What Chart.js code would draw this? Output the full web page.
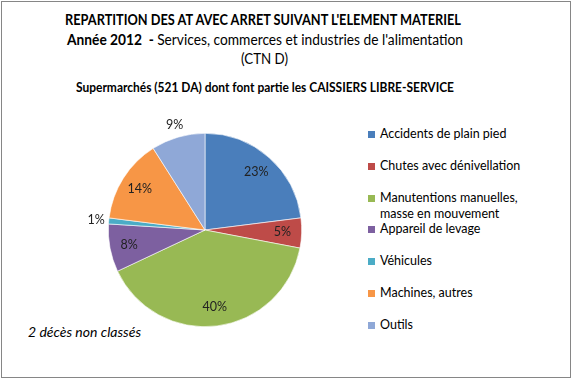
<!DOCTYPE html>
<html>
<head>
<meta charset="utf-8">
<script src="https://cdn.jsdelivr.net/npm/chart.js@4"></script>
<style>
    body { margin: 0; background: #fff; }
    #cadre { position: absolute; left: 1px; top: 1px; width: 568px; height: 375px; border: 1px solid #868686; background: #fff; overflow: hidden; font-family: Lato, "Open Sans", sans-serif; color: #000; }
    .txt { position: absolute; white-space: nowrap; transform-origin: left center; line-height: 1; }
    #zoneGraph { position: absolute; left: 82px; top: 107px; width: 242px; height: 242px; }
    .leg { position: absolute; left: 366px; font-size: 12.5px; line-height: 16px; white-space: nowrap; }
    .leg span.carre { position: absolute; left: 0; top: 5px; width: 7px; height: 7px; }
    .leg div { margin-left: 12px; }
</style>
</head>
<body>
<div id="cadre">
    <div class="txt" id="t1" style="font-weight:bold;font-size:14.5px">REPARTITION DES AT AVEC ARRET SUIVANT L'ELEMENT MATERIEL</div>
    <div class="txt" id="t2" style="font-size:14.5px"><b>Année 2012&nbsp; - </b>Services, commerces et industries de l'alimentation</div>
    <div class="txt" id="t3" style="font-size:14.5px">(CTN D)</div>
    <div class="txt" id="t4" style="font-weight:bold;font-size:13.5px">Supermarchés (521 DA) dont font partie les CAISSIERS LIBRE-SERVICE</div>
    <div class="txt" id="note" style="font-style:italic;font-size:13px">2 décès non classés</div>
    <div id="zoneGraph"><canvas id="graphPie"></canvas></div>
    <div id="legende"></div>
</div>
<script>
// Données
const categories = [
    'Accidents de plain pied',
    'Chutes avec dénivellation',
    ['Manutentions manuelles,', 'masse en mouvement'],
    'Appareil de levage',
    'Véhicules',
    'Machines, autres',
    'Outils'
];
const pourcentages = [23, 5, 40, 8, 1, 14, 9];
const couleurs = ['#4A7EBB', '#BE4B48', '#98B954', '#7D60A0', '#4BACC6', '#F79646', '#8FA8D7'];
// étiquettes placées hors du secteur
const etiquettesDehors = [false, false, false, false, true, false, true];

// Ajuster la largeur des textes (police de remplacement)
function placerTexte(id, gauche, haut, largeur) {
    const el = document.getElementById(id);
    el.style.left = gauche + 'px';
    el.style.top = haut + 'px';
    const w = el.getBoundingClientRect().width;
    el.style.transform = 'scaleX(' + (largeur / w) + ')';
}
placerTexte('t1', 63, 11, 396);
placerTexte('t2', 65, 31, 396);
placerTexte('t3', 239, 50, 47);
placerTexte('t4', 74, 79, 378);
placerTexte('note', 26, 324, 113);

// Légende
const legende = document.getElementById('legende');
categories.forEach((cat, i) => {
    const item = document.createElement('div');
    item.className = 'leg';
    item.style.top = (124 + i * 31.8) + 'px';
    const carre = document.createElement('span');
    carre.className = 'carre';
    carre.style.background = couleurs[i];
    item.appendChild(carre);
    const lignes = Array.isArray(cat) ? cat : [cat];
    lignes.forEach(l => {
        const d = document.createElement('div');
        d.textContent = l;
        item.appendChild(d);
    });
    legende.appendChild(item);
});

// Plugin pour les pourcentages
const pluginEtiquettes = {
    id: 'etiquettes',
    afterDatasetsDraw(chart) {
        const ctx = chart.ctx;
        const meta = chart.getDatasetMeta(0);
        ctx.save();
        ctx.font = '12.5px Lato, sans-serif';
        ctx.fillStyle = '#222';
        ctx.textAlign = 'center';
        ctx.textBaseline = 'middle';
        meta.data.forEach((arc, i) => {
            const p = arc.getProps(['x', 'y', 'startAngle', 'endAngle', 'outerRadius'], true);
            const angle = (p.startAngle + p.endAngle) / 2;
            const r = p.outerRadius * (etiquettesDehors[i] ? 1.13 : 0.8);
            ctx.fillText(pourcentages[i] + '%', p.x + Math.cos(angle) * r, p.y + Math.sin(angle) * r);
        });
        ctx.restore();
    }
};

new Chart(document.getElementById('graphPie'), {
    type: 'pie',
    data: {
        labels: categories,
        datasets: [{
            data: pourcentages,
            backgroundColor: couleurs,
            borderColor: '#ffffff',
            borderWidth: 0.6
        }]
    },
    options: {
        responsive: true,
        maintainAspectRatio: false,
        animation: false,
        layout: { padding: 24 },
        plugins: {
            legend: { display: false },
            tooltip: { enabled: false }
        }
    },
    plugins: [pluginEtiquettes]
});
</script>
</body>
</html>
